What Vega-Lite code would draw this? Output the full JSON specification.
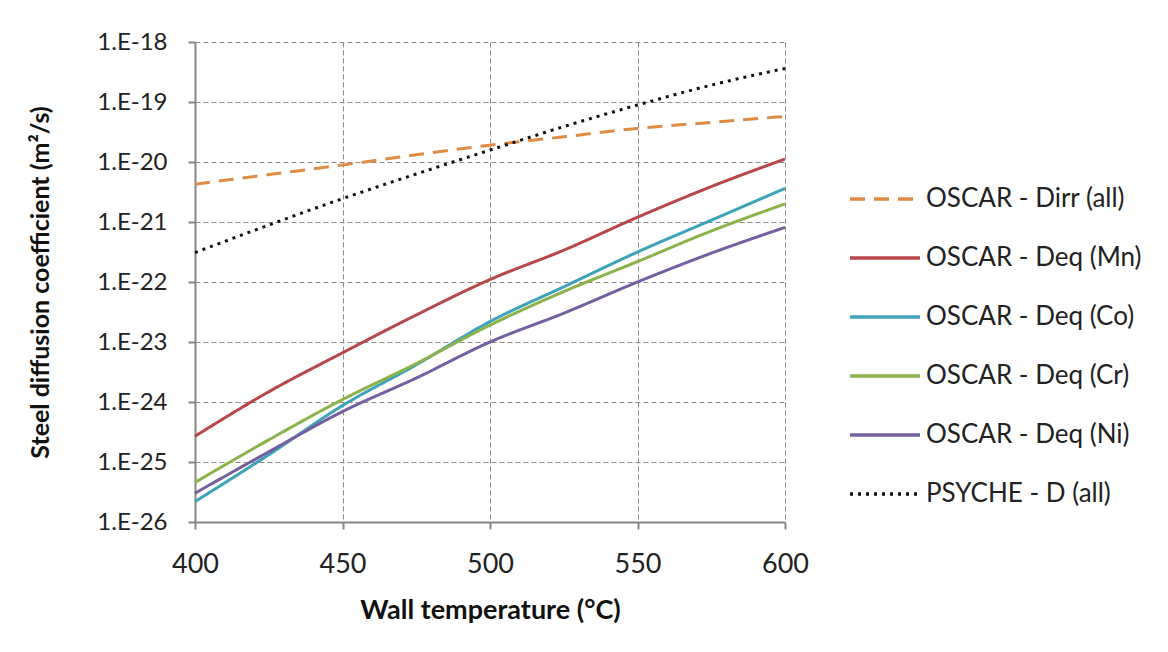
{
  "$schema": "https://vega.github.io/schema/vega-lite/v6.json",
  "autosize": {"type": "none"},
  "padding": {"left": 195, "top": 42, "right": 383, "bottom": 130},
  "width": 590,
  "height": 480,
  "background": "white",
  "config": {
    "font": "Lato",
    "view": {"stroke": null},
    "axis": {
      "labelFont": "Lato",
      "labelFontSize": 25,
      "labelColor": "#222222",
      "titleFont": "Lato",
      "titleFontSize": 27,
      "titleFontWeight": "bold",
      "titleColor": "#111111",
      "domainColor": "#868686",
      "domainWidth": 2,
      "tickColor": "#868686",
      "tickWidth": 2,
      "tickSize": 7,
      "gridColor": "#8a8a8a",
      "gridDash": [5, 3],
      "gridWidth": 1
    }
  },
  "data": {
    "values": [
      {"T": 400, "series": "OSCAR - Dirr (all)", "D": 4.27e-21},
      {"T": 425, "series": "OSCAR - Dirr (all)", "D": 6.17e-21},
      {"T": 450, "series": "OSCAR - Dirr (all)", "D": 8.91e-21},
      {"T": 475, "series": "OSCAR - Dirr (all)", "D": 1.32e-20},
      {"T": 500, "series": "OSCAR - Dirr (all)", "D": 1.91e-20},
      {"T": 525, "series": "OSCAR - Dirr (all)", "D": 2.63e-20},
      {"T": 550, "series": "OSCAR - Dirr (all)", "D": 3.63e-20},
      {"T": 575, "series": "OSCAR - Dirr (all)", "D": 4.57e-20},
      {"T": 600, "series": "OSCAR - Dirr (all)", "D": 5.75e-20},

      {"T": 400, "series": "OSCAR - Deq (Mn)", "D": 2.69e-25},
      {"T": 425, "series": "OSCAR - Deq (Mn)", "D": 1.48e-24},
      {"T": 450, "series": "OSCAR - Deq (Mn)", "D": 6.61e-24},
      {"T": 475, "series": "OSCAR - Deq (Mn)", "D": 2.82e-23},
      {"T": 500, "series": "OSCAR - Deq (Mn)", "D": 1.10e-22},
      {"T": 525, "series": "OSCAR - Deq (Mn)", "D": 3.39e-22},
      {"T": 550, "series": "OSCAR - Deq (Mn)", "D": 1.20e-21},
      {"T": 575, "series": "OSCAR - Deq (Mn)", "D": 3.89e-21},
      {"T": 600, "series": "OSCAR - Deq (Mn)", "D": 1.12e-20},

      {"T": 400, "series": "OSCAR - Deq (Co)", "D": 2.19e-26},
      {"T": 425, "series": "OSCAR - Deq (Co)", "D": 1.32e-25},
      {"T": 450, "series": "OSCAR - Deq (Co)", "D": 8.71e-25},
      {"T": 475, "series": "OSCAR - Deq (Co)", "D": 4.17e-24},
      {"T": 500, "series": "OSCAR - Deq (Co)", "D": 2.19e-23},
      {"T": 525, "series": "OSCAR - Deq (Co)", "D": 8.32e-23},
      {"T": 550, "series": "OSCAR - Deq (Co)", "D": 3.16e-22},
      {"T": 575, "series": "OSCAR - Deq (Co)", "D": 1.07e-21},
      {"T": 600, "series": "OSCAR - Deq (Co)", "D": 3.63e-21},

      {"T": 400, "series": "OSCAR - Deq (Cr)", "D": 4.57e-26},
      {"T": 425, "series": "OSCAR - Deq (Cr)", "D": 2.34e-25},
      {"T": 450, "series": "OSCAR - Deq (Cr)", "D": 1.10e-24},
      {"T": 475, "series": "OSCAR - Deq (Cr)", "D": 4.37e-24},
      {"T": 500, "series": "OSCAR - Deq (Cr)", "D": 1.91e-23},
      {"T": 525, "series": "OSCAR - Deq (Cr)", "D": 6.92e-23},
      {"T": 550, "series": "OSCAR - Deq (Cr)", "D": 2.19e-22},
      {"T": 575, "series": "OSCAR - Deq (Cr)", "D": 7.08e-22},
      {"T": 600, "series": "OSCAR - Deq (Cr)", "D": 2.00e-21},

      {"T": 400, "series": "OSCAR - Deq (Ni)", "D": 3.02e-26},
      {"T": 425, "series": "OSCAR - Deq (Ni)", "D": 1.48e-25},
      {"T": 450, "series": "OSCAR - Deq (Ni)", "D": 6.92e-25},
      {"T": 475, "series": "OSCAR - Deq (Ni)", "D": 2.51e-24},
      {"T": 500, "series": "OSCAR - Deq (Ni)", "D": 1.00e-23},
      {"T": 525, "series": "OSCAR - Deq (Ni)", "D": 3.02e-23},
      {"T": 550, "series": "OSCAR - Deq (Ni)", "D": 1.00e-22},
      {"T": 575, "series": "OSCAR - Deq (Ni)", "D": 3.02e-22},
      {"T": 600, "series": "OSCAR - Deq (Ni)", "D": 8.13e-22},

      {"T": 400, "series": "PSYCHE - D (all)", "D": 3.09e-22},
      {"T": 425, "series": "PSYCHE - D (all)", "D": 8.91e-22},
      {"T": 450, "series": "PSYCHE - D (all)", "D": 2.45e-21},
      {"T": 475, "series": "PSYCHE - D (all)", "D": 6.31e-21},
      {"T": 500, "series": "PSYCHE - D (all)", "D": 1.58e-20},
      {"T": 525, "series": "PSYCHE - D (all)", "D": 3.89e-20},
      {"T": 550, "series": "PSYCHE - D (all)", "D": 8.91e-20},
      {"T": 575, "series": "PSYCHE - D (all)", "D": 1.91e-19},
      {"T": 600, "series": "PSYCHE - D (all)", "D": 3.63e-19}
    ]
  },
  "mark": {"type": "line", "strokeWidth": 3, "interpolate": "monotone"},
  "encoding": {
    "x": {
      "field": "T",
      "type": "quantitative",
      "scale": {"domain": [400, 600], "nice": false, "zero": false},
      "axis": {
        "title": "Wall temperature (°C)",
        "values": [400, 450, 500, 550, 600],
        "labelFontSize": 27,
        "labelFlush": false,
        "labelPadding": 22,
        "titleY": 96,
        "titleBaseline": "alphabetic"
      }
    },
    "y": {
      "field": "D",
      "type": "quantitative",
      "scale": {"type": "log", "domain": [1e-26, 1e-18], "nice": false},
      "axis": {
        "title": "Steel diffusion coefficient (m²/s)",
        "values": [1e-26, 1e-25, 1e-24, 1e-23, 1e-22, 1e-21, 1e-20, 1e-19, 1e-18],
        "labelExpr": "'1.E' + round(log(datum.value) / LN10)",
        "labelFontSize": 24,
        "labelPadding": 21,
        "titleFontSize": 25,
        "titleX": -155,
        "titleBaseline": "middle"
      }
    },
    "color": {
      "field": "series",
      "type": "nominal",
      "scale": {
        "domain": ["OSCAR - Dirr (all)", "OSCAR - Deq (Mn)", "OSCAR - Deq (Co)", "OSCAR - Deq (Cr)", "OSCAR - Deq (Ni)", "PSYCHE - D (all)"],
        "range": ["#DE8C44", "#B8474A", "#3EA2B8", "#8DB24C", "#7460A0", "#111111"]
      },
      "legend": {
        "title": null,
        "orient": "none",
        "legendX": 653,
        "legendY": 120,
        "symbolType": "stroke",
        "symbolSize": 4900,
        "symbolStrokeWidth": 3.5,
        "labelFont": "Lato",
        "labelFontSize": 26,
        "labelColor": "#222222",
        "labelOffset": 4,
        "rowPadding": 9,
        "padding": 0,
        "labelLimit": 400
      }
    },
    "strokeDash": {
      "field": "series",
      "type": "nominal",
      "scale": {
        "domain": ["OSCAR - Dirr (all)", "OSCAR - Deq (Mn)", "OSCAR - Deq (Co)", "OSCAR - Deq (Cr)", "OSCAR - Deq (Ni)", "PSYCHE - D (all)"],
        "range": [[15, 9], [1, 0], [1, 0], [1, 0], [1, 0], [3, 5]]
      },
      "legend": {
        "title": null,
        "orient": "none",
        "legendX": 653,
        "legendY": 120,
        "symbolType": "stroke",
        "symbolSize": 4900,
        "symbolStrokeWidth": 3.5,
        "labelFont": "Lato",
        "labelFontSize": 26,
        "labelColor": "#222222",
        "labelOffset": 4,
        "rowPadding": 9,
        "padding": 0,
        "labelLimit": 400
      }
    }
  }
}
